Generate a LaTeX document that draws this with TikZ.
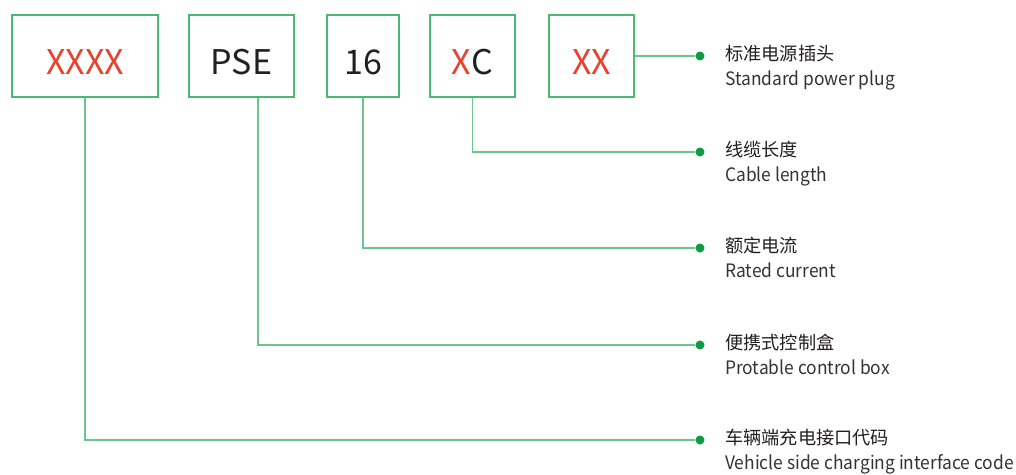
\documentclass[tikz,border=0pt]{standalone}
\usepackage{fontspec}
\setmainfont{Noto Sans CJK SC}
\newfontfamily\enfont[FakeStretch=0.94]{Noto Sans CJK SC}
\definecolor{boxgreen}{HTML}{4DB872}
\definecolor{linegreen}{HTML}{6CC58C}
\definecolor{dotgreen}{HTML}{0F9A45}
\definecolor{codered}{HTML}{E8412C}
\definecolor{codeblack}{HTML}{231F20}
\definecolor{textgray}{HTML}{333333}
\tikzset{
  codebox/.style={draw=boxgreen, line width=1.4pt, minimum height=82pt, inner sep=0pt},
  codetext/.style={font=\fontsize{34}{34}\selectfont, text height=24pt, text depth=0pt, inner sep=0pt},
  dotnode/.style={circle, fill=dotgreen, minimum size=9pt, inner sep=0pt},
  conn/.style={draw=linegreen, line width=1.4pt},
  cnlabel/.style={anchor=base west, inner sep=0pt, text=codeblack, font=\fontsize{18.2}{18.2}\selectfont},
  enlabel/.style={anchor=base west, inner sep=0pt, text=textgray, font=\enfont\fontsize{18.5}{18.5}\selectfont},
}
\begin{document}
\begin{tikzpicture}[x=1pt,y=-1pt]
\useasboundingbox (0,0) rectangle (1016,474);
% boxes
\node[codebox, minimum width=146pt] (b1) at (85,56) {};
\node[codebox, minimum width=105pt] (b2) at (241.5,56) {};
\node[codebox, minimum width=72pt] (b3) at (363,56) {};
\node[codebox, minimum width=85pt] (b4) at (472.5,56) {};
\node[codebox, minimum width=85pt] (b5) at (591.5,56) {};
% box texts
\node[codetext, text=codered] (t1) at (85,62) {XXXX};
\node[codetext, text=codeblack] (t2) at (241.5,62) {PSE};
\node[codetext, text=codeblack] (t3) at (363,62) {16};
\node[codetext] (t4) at (472.5,62) {\textcolor{codered}{X}\textcolor{codeblack}{C}};
\node[codetext, text=codered] (t5) at (591.5,62) {XX};
% dots
\node[dotnode] (d1) at (700,56) {};
\node[dotnode] (d2) at (700,152) {};
\node[dotnode] (d3) at (700,248) {};
\node[dotnode] (d4) at (700,345) {};
\node[dotnode] (d5) at (700,440) {};
% connectors
\draw[conn] (b5.east) -- (d1);
\draw[conn] (b4.south) |- (d2);
\draw[conn] (b3.south) |- (d3);
\draw[conn] ([xshift=16.5pt]b2.south) |- (d4);
\draw[conn] (b1.south) |- (d5);
% labels
\node[cnlabel] (c1) at (725,60) {标准电源插头};
\node[enlabel] (e1) at (725,85) {Standard power plug};
\node[cnlabel] (c2) at (725,156) {线缆长度};
\node[enlabel] (e2) at (725,181) {Cable length};
\node[cnlabel] (c3) at (725,252) {额定电流};
\node[enlabel] (e3) at (725,277) {Rated current};
\node[cnlabel] (c4) at (725,349) {便携式控制盒};
\node[enlabel] (e4) at (725,374) {Protable control box};
\node[cnlabel] (c5) at (725,444) {车辆端充电接口代码};
\node[enlabel] (e5) at (725,469) {Vehicle side charging interface code};
\end{tikzpicture}
\end{document}
